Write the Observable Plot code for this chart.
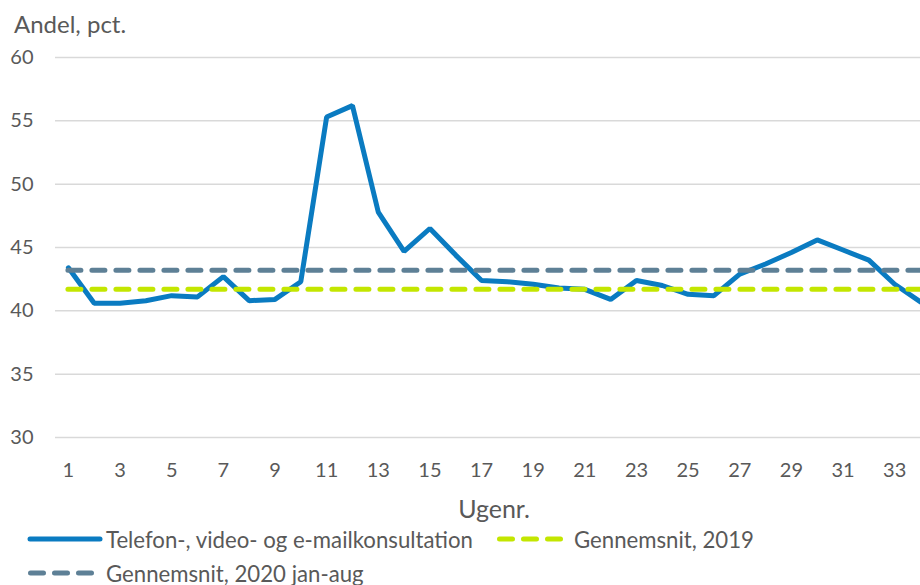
<!DOCTYPE html>
<html>
<head>
<meta charset="utf-8">
<script src="https://cdn.jsdelivr.net/npm/d3@7"></script>
<script src="https://cdn.jsdelivr.net/npm/@observablehq/plot@0.6"></script>
<style>
  html, body { margin: 0; padding: 0; background: #fff; overflow: hidden; width: 920px; height: 585px; }
  body { font-family: Lato, "Open Sans", sans-serif; color: #595959; position: relative; }
  #title { position: absolute; left: 14px; top: 12px; font-size: 24px; line-height: 1; color: #595959; }
  #chart { position: absolute; left: 0; top: 45px; }
  .leg { position: absolute; display: flex; align-items: center; font-size: 22.2px; color: #595959; white-space: nowrap; }
  .leg svg { display: block; }
</style>
</head>
<body>
<div id="title">Andel, pct.</div>
<div id="chart"></div>
<div class="leg" style="left:26px; top:524px;"><svg width="80" height="30"><line x1="4" y1="15" x2="74" y2="15" stroke="#0a7bc1" stroke-width="5" stroke-linecap="round"/></svg><span>Telefon-, video- og e-mailkonsultation</span></div>
<div class="leg" style="left:494px; top:524px;"><svg width="80" height="30"><line x1="5.5" y1="15" x2="70" y2="15" stroke="#c3e600" stroke-width="5" stroke-linecap="round" stroke-dasharray="13,11"/></svg><span>Gennemsnit, 2019</span></div>
<div class="leg" style="left:26px; top:558px;"><svg width="80" height="30"><line x1="4.5" y1="15" x2="70" y2="15" stroke="#5e8096" stroke-width="5" stroke-linecap="round" stroke-dasharray="13,11"/></svg><span>Gennemsnit, 2020 jan-aug</span></div>
<script>
const weeks = [1,2,3,4,5,6,7,8,9,10,11,12,13,14,15,16,17,18,19,20,21,22,23,24,25,26,27,28,29,30,31,32,33,34];
const share = [43.4,40.6,40.6,40.8,41.2,41.1,42.7,40.8,40.9,42.3,55.3,56.2,47.8,44.7,46.5,44.4,42.4,42.3,42.1,41.8,41.7,40.9,42.4,42.0,41.3,41.2,42.9,43.7,44.6,45.6,44.8,44.0,42.1,40.7];
const avg2019 = 41.7;
const avg2020 = 43.2;
const yTicks = [30,35,40,45,50,55,60];
const xTicks = [1,3,5,7,9,11,13,15,17,19,21,23,25,27,29,31,33];

const data = weeks.map((w, i) => ({week: w, value: share[i]}));
const firstWeek = weeks[0], lastWeek = weeks[weeks.length - 1];

const plot = Plot.plot({
  width: 920,
  height: 480,
  marginLeft: 55,
  marginRight: 0,
  marginTop: 12,
  marginBottom: 88,
  style: {fontFamily: "Lato, 'Open Sans', sans-serif", fontSize: "20px", color: "#595959", background: "transparent", overflow: "visible"},
  x: {domain: [0.5, 34], axis: null},
  y: {domain: [30, 60], axis: null},
  marks: [
    Plot.gridY(yTicks, {stroke: "#d9d9d9", strokeOpacity: 1, strokeWidth: 1.5}),
    Plot.axisY(yTicks, {tickSize: 0, tickPadding: 22, label: null, fill: "#595959", fontSize: 20}),
    Plot.axisX(xTicks, {tickSize: 0, tickPadding: 25, label: null, fill: "#595959", fontSize: 20, tickFormat: d => String(d)}),
    Plot.text(["Ugenr."], {frameAnchor: "bottom", lineAnchor: "middle", dy: 72, dx: 6, fill: "#595959", fontSize: 25}),
    Plot.line(data, {x: "week", y: "value", stroke: "#0a7bc1", strokeWidth: 5, strokeLinejoin: "miter", strokeLinecap: "round"}),
    Plot.ruleY([avg2019], {x1: firstWeek, x2: lastWeek, stroke: "#c3e600", strokeWidth: 5, strokeLinecap: "round", strokeDasharray: "13,11"}),
    Plot.ruleY([avg2020], {x1: firstWeek, x2: lastWeek, stroke: "#5e8096", strokeWidth: 5, strokeLinecap: "round", strokeDasharray: "13,11"})
  ]
});
document.getElementById("chart").appendChild(plot);
</script>
</body>
</html>
